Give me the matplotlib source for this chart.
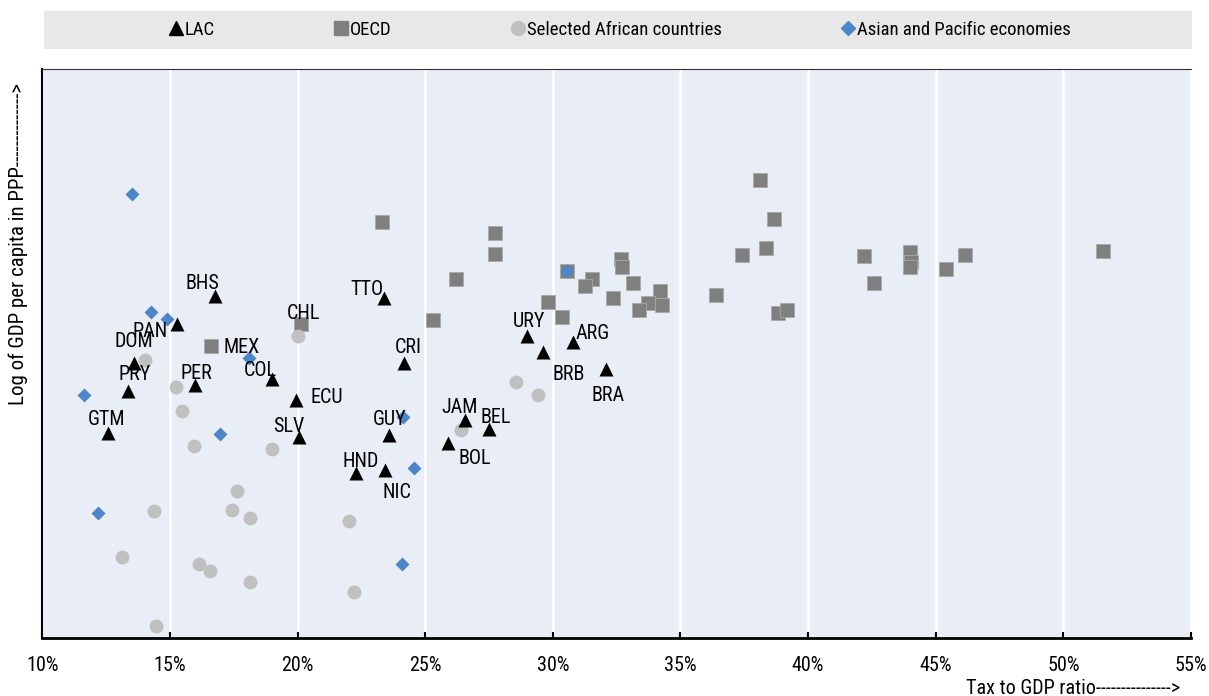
import matplotlib
matplotlib.use('Agg')
import matplotlib.pyplot as plt
from matplotlib import font_manager
from matplotlib.patches import Rectangle
from matplotlib.lines import Line2D

# pick a narrow sans face if one is installed
available = set(f.name for f in font_manager.fontManager.ttflist)
candidates = ['Liberation Sans Narrow', 'Arial Narrow', 'Nimbus Sans Narrow', 'Roboto Condensed',
              'Archivo Narrow', 'PT Sans Narrow', 'Liberation Sans']
font = next(c for c in candidates if c in available)
plt.rcParams['font.family'] = [font, 'DejaVu Sans']

# ---- data: tax-to-GDP ratio (%) and log GDP per capita (PPP) ----
lac_names = ['GTM', 'PRY', 'DOM', 'PAN', 'BHS', 'PER', 'COL', 'ECU', 'SLV', 'TTO', 'CRI',
             'GUY', 'HND', 'NIC', 'JAM', 'BEL', 'BOL', 'URY', 'BRB', 'ARG', 'BRA']
lac_tax = [12.58, 13.34, 13.60, 15.27, 16.76, 15.99, 19.00, 19.92, 20.05, 23.39, 24.16,
           23.58, 22.27, 23.42, 26.54, 27.48, 25.88, 29.00, 29.62, 30.78, 32.07]
lac_gdp = [8.62, 8.95, 9.17, 9.48, 9.70, 9.00, 9.05, 8.88, 8.59, 9.69, 9.17,
           8.60, 8.30, 8.33, 8.72, 8.65, 8.54, 9.39, 9.26, 9.34, 9.13]

oecd_names = ['MEX', 'CHL'] + [''] * 33
oecd_tax = [16.61, 20.15, 23.30, 27.75, 27.73, 26.22, 25.29, 29.80, 30.35, 30.56, 31.54,
            31.27, 32.68, 32.72, 33.16, 32.35, 34.20, 34.29, 33.71, 33.37, 36.41, 38.13,
            38.67, 38.36, 37.41, 38.81, 39.17, 42.20, 42.58, 44.00, 44.04, 43.98, 45.42,
            46.15, 51.55]
oecd_gdp = [9.31, 9.48, 10.29, 10.20, 10.04, 9.84, 9.51, 9.66, 9.54, 9.90, 9.84,
            9.78, 10.00, 9.93, 9.81, 9.69, 9.74, 9.63, 9.65, 9.59, 9.71, 10.62,
            10.31, 10.08, 10.03, 9.57, 9.59, 10.02, 9.81, 10.05, 9.97, 9.93, 9.92,
            10.03, 10.06]

africa_tax = [14.01, 15.24, 15.48, 15.96, 19.01, 20.02, 17.61, 17.42, 18.12, 14.36,
              13.12, 16.13, 16.56, 18.13, 14.44, 22.00, 22.20, 26.40, 28.55, 29.41]
africa_gdp = [9.20, 8.98, 8.79, 8.52, 8.49, 9.39, 8.16, 8.01, 7.95, 8.00,
              7.64, 7.58, 7.53, 7.44, 7.09, 7.92, 7.36, 8.64, 9.02, 8.92]

asia_tax = [13.52, 14.25, 14.88, 11.62, 18.10, 16.97, 12.17, 24.14, 24.55, 24.08, 30.56]
asia_gdp = [10.51, 9.58, 9.52, 8.92, 9.21, 8.61, 7.99, 8.75, 8.34, 7.58, 9.90]

# label offsets in pixels (dx, dy up) from the marker centre
label_offsets = {
    'GTM': (-2, 15), 'PRY': (7, 18), 'DOM': (0, 23), 'PAN': (-27, -6), 'BHS': (-12, 14),
    'PER': (1, 13), 'MEX': (31, 0), 'COL': (-12, 10), 'ECU': (31, 4), 'SLV': (-10, 12),
    'CHL': (2, 12), 'TTO': (-17, 10), 'CRI': (4, 17), 'GUY': (1, 17), 'HND': (5, 13),
    'NIC': (12, -21), 'JAM': (-5, 14), 'BEL': (7, 13), 'BOL': (27, -14), 'URY': (2, 16),
    'BRB': (26, -21), 'ARG': (20, 10), 'BRA': (2, -25),
}

colors = {'bg': '#E9EDF6', 'lac': '#000000', 'oecd': '#7F7F7F', 'africa': '#C0C0C0',
          'asia': '#4A86C8', 'band': '#E8E8E8'}

fig = plt.figure(figsize=(12.09, 6.96), dpi=100)
ax = fig.add_axes([42.3 / 1209, 1 - 637.7 / 696, (1191 - 42.3) / 1209, (637.7 - 69) / 696])
ax.set_facecolor(colors['bg'])

ax.plot(oecd_tax, oecd_gdp, 's', ms=10.3, color=colors['oecd'], mec='#A8A8A8', mew=0.6, zorder=2)
ax.plot(africa_tax, africa_gdp, 'o', ms=10, color=colors['africa'], mec='none', zorder=3)
ax.plot(lac_tax, lac_gdp, '^', ms=10.6, color=colors['lac'], mec='none', zorder=4)
ax.plot(asia_tax, asia_gdp, 'D', ms=7.2, color=colors['asia'], mec='none', zorder=5)

for names, xs, ys in [(lac_names, lac_tax, lac_gdp), (oecd_names, oecd_tax, oecd_gdp)]:
    for n, x, y in zip(names, xs, ys):
        if not n:
            continue
        dx, dy = label_offsets[n]
        ax.annotate(n, (x, y), xytext=(dx, dy - 7), textcoords='offset pixels',
                    ha='center', va='baseline', fontsize=14.5, color='black', zorder=6)

ax.set_xlim(10, 55)
ax.set_ylim(7.0, 11.5)
ax.set_xticks(range(10, 60, 5))
ax.set_xticklabels([f'{v}%' for v in range(10, 60, 5)], fontsize=14.5)
ax.set_yticks([])
ax.tick_params(axis='x', direction='in', length=4, width=1.5, color='black', pad=13)
ax.grid(axis='x', color='white', lw=1.8, zorder=1)
ax.set_axisbelow(True)

ax.spines['left'].set_linewidth(1.5)
ax.spines['left'].set_color('black')
ax.spines['bottom'].set_linewidth(2)
ax.spines['bottom'].set_color('black')
ax.spines['top'].set_linewidth(0.8)
ax.spines['top'].set_color('#333333')
ax.spines['right'].set_visible(False)

fig.text(18 / 1209, 1 - 83 / 696, 'Log of GDP per capita in PPP-------------->', rotation=90,
         ha='center', va='top', fontsize=15)
fig.text(1180 / 1209, 1 - 688 / 696, 'Tax to GDP ratio--------------->', ha='right',
         va='center', fontsize=14.5)

# legend band
fig.patches.append(Rectangle((44 / 1209, 1 - 49 / 696), 1148 / 1209, 38 / 696,
                             transform=fig.transFigure, facecolor=colors['band'],
                             edgecolor='none', zorder=0))
handles = [
    Line2D([], [], ls='none', marker='^', ms=10, color=colors['lac'], label='LAC'),
    Line2D([], [], ls='none', marker='s', ms=10, color=colors['oecd'], label='OECD'),
    Line2D([], [], ls='none', marker='o', ms=10, color=colors['africa'], label='Selected African countries'),
    Line2D([], [], ls='none', marker='D', ms=7, color=colors['asia'], label='Asian and Pacific economies'),
]
fig.legend(handles=handles, loc='center', bbox_to_anchor=(620 / 1209, 1 - 30 / 696), ncol=4,
           frameon=False, fontsize=13.5, handlelength=0.7, handletextpad=0.12,
           columnspacing=6.4, borderpad=0)

fig.savefig('out.png', dpi=100)
